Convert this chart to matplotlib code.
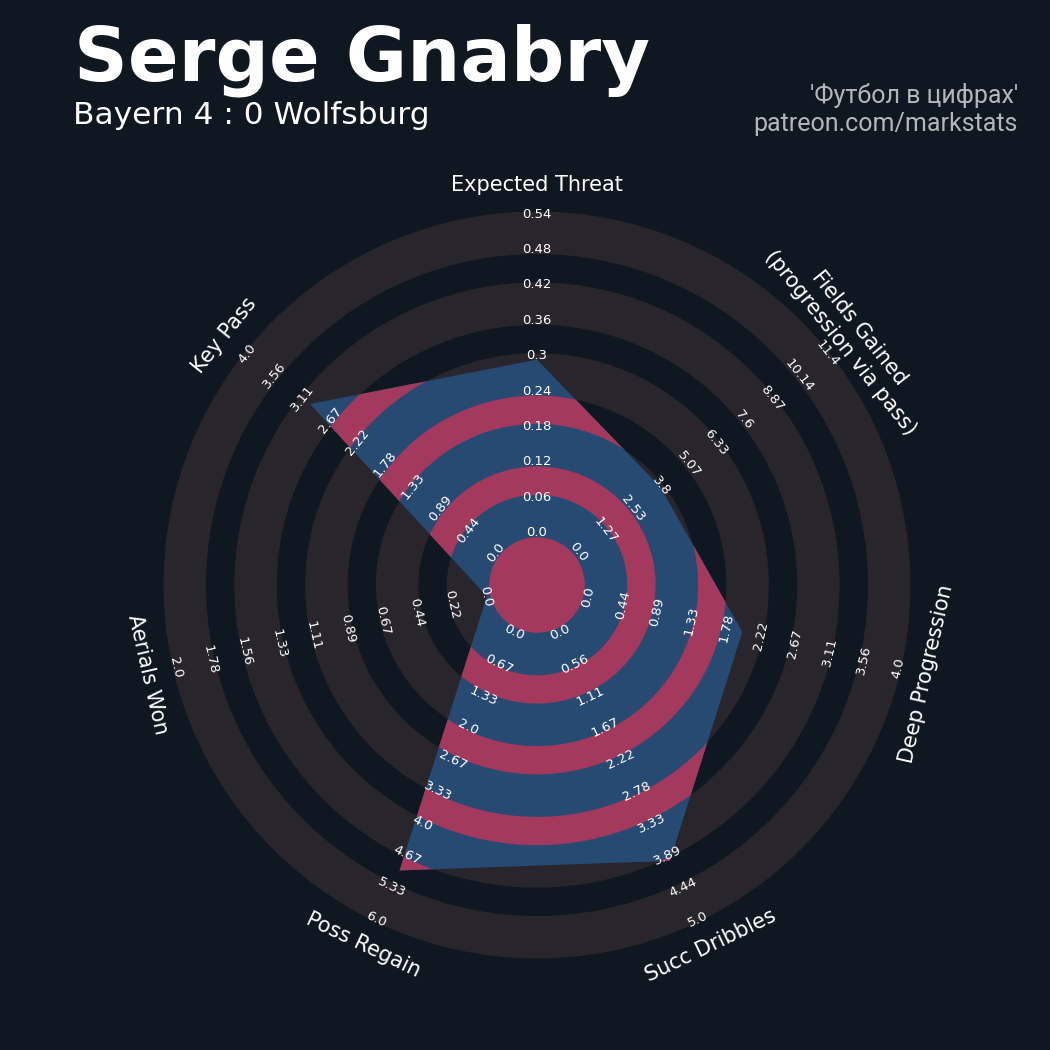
import numpy as np
import matplotlib
matplotlib.use('Agg')
import matplotlib.pyplot as plt
from matplotlib.patches import Polygon, Wedge, Circle

# ---------------- data ----------------
params = ['Expected Threat', 'Fields Gained\n(progression via pass)', 'Deep Progression',
          'Succ Dribbles', 'Poss Regain', 'Aerials Won', 'Key Pass']
values = [0.295, 3.8, 2.0, 4.0, 5.0, 0.0, 3.0]
tick_labels = [
    ['0.0', '0.06', '0.12', '0.18', '0.24', '0.3', '0.36', '0.42', '0.48', '0.54'],
    ['0.0', '1.27', '2.53', '3.8', '5.07', '6.33', '7.6', '8.87', '10.14', '11.4'],
    ['0.0', '0.44', '0.89', '1.33', '1.78', '2.22', '2.67', '3.11', '3.56', '4.0'],
    ['0.0', '0.56', '1.11', '1.67', '2.22', '2.78', '3.33', '3.89', '4.44', '5.0'],
    ['0.0', '0.67', '1.33', '2.0', '2.67', '3.33', '4.0', '4.67', '5.33', '6.0'],
    ['0.0', '0.22', '0.44', '0.67', '0.89', '1.11', '1.33', '1.56', '1.78', '2.0'],
    ['0.0', '0.44', '0.89', '1.33', '1.78', '2.22', '2.67', '3.11', '3.56', '4.0'],
]
title = 'Serge Gnabry'
subtitle = 'Bayern 4 : 0 Wolfsburg'
credit_lines = ["'Футбол в цифрах'", 'patreon.com/markstats']

# ---------------- style ----------------
BG = '#0f1720'
RING = '#28252c'
BLUE = '#264a72'
RED = '#a3395d'
CREDIT = '#b4b7ba'

NUM_RINGS = len(tick_labels[0]) - 1
CENTER = 1.45      # radius of centre circle (ring units)
EXT = 0.1          # visual widening of the grey / blue bands
PX = 35.4          # pixels per ring unit
W = H = 1050
cx, cy = 537, 585  # radar centre in pixels (from top-left)
half_px = 450

fig = plt.figure(figsize=(W / 100, H / 100), dpi=100, facecolor=BG)
ax = fig.add_axes([(cx - half_px) / W, (H - cy - half_px) / H, 2 * half_px / W, 2 * half_px / H])
lim = half_px / PX
ax.set_xlim(-lim, lim)
ax.set_ylim(-lim, lim)
ax.set_aspect('equal')
ax.axis('off')
ax.set_facecolor(BG)

n = len(params)
theta = np.deg2rad(90 - np.arange(n) * 360 / n)

# background grey rings
for k in range(0, NUM_RINGS, 2):
    r_in = CENTER + k - EXT
    r_out = CENTER + k + 1 + EXT
    ax.add_patch(Wedge((0, 0), r_out, 0, 360, width=r_out - r_in,
                       facecolor=RING, edgecolor='none', zorder=1))

# radar polygon
lows = np.array([float(t[0]) for t in tick_labels])
highs = np.array([float(t[-1]) for t in tick_labels])
vals = np.array(values)
radii = CENTER + (vals - lows) / (highs - lows) * NUM_RINGS
verts = np.column_stack([radii * np.cos(theta), radii * np.sin(theta)])
radar = Polygon(verts, closed=True, facecolor=BLUE, edgecolor='none', zorder=2)
ax.add_patch(radar)

# coloured rings inside the radar
for k in range(1, NUM_RINGS, 2):
    r_in = CENTER + k + EXT
    r_out = CENTER + k + 1 - EXT
    w = Wedge((0, 0), r_out, 0, 360, width=r_out - r_in,
              facecolor=RED, edgecolor='none', zorder=3)
    ax.add_patch(w)
    w.set_clip_path(radar)
ax.add_patch(Circle((0, 0), CENTER - EXT, facecolor=RED, edgecolor='none', zorder=3))

# labels
def rot_for(th_deg):
    return (th_deg % 180) - 90

for i in range(n):
    th = theta[i]
    rot = rot_for(np.rad2deg(th))
    for k, lab in enumerate(tick_labels[i]):
        r = CENTER + k + 0.03
        ax.text(r * np.cos(th), r * np.sin(th), lab, fontsize=9.5, color='white',
                ha='center', va='center', rotation=rot, rotation_mode='anchor', zorder=5)
    rp = 400 / PX
    ax.text(rp * np.cos(th), rp * np.sin(th), params[i], fontsize=15, color='white',
            ha='center', va='center', rotation=rot, rotation_mode='anchor',
            multialignment='center', zorder=5)

# titles
fig.text(0.0705, (H - 80.5) / H, title, fontsize=53.8, fontweight='bold', color='white',
         ha='left', va='baseline', family='DejaVu Sans')
fig.text(0.0695, (H - 123.5) / H, subtitle, fontsize=22.5, color='white',
         ha='left', va='baseline', family='DejaVu Sans')
fig.text(1018 / W, (H - 103) / H, credit_lines[0], fontsize=18, color=CREDIT,
         ha='right', va='baseline', family=['Roboto', 'DejaVu Sans'])
fig.text(1018 / W, (H - 131) / H, credit_lines[1], fontsize=18, color=CREDIT,
         ha='right', va='baseline', family=['Roboto', 'DejaVu Sans'])

fig.savefig('out.png', dpi=100, facecolor=BG)
